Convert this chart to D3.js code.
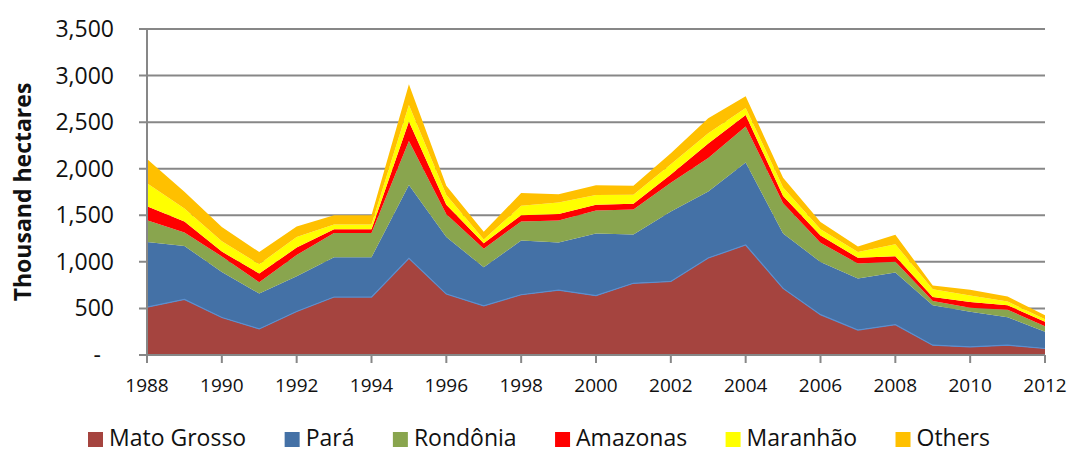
<!DOCTYPE html>
<html>
<head>
<meta charset="utf-8">
<script src="https://cdn.jsdelivr.net/npm/d3@7"></script>
<style>
  body { margin: 0; background: #fff; }
  svg text { font-family: "Open Sans", "DejaVu Sans", sans-serif; fill: #111; }
</style>
</head>
<body>
<svg width="1071" height="453"></svg>
<script>
// deforestation by state, thousand hectares
var years = [1988, 1989, 1990, 1991, 1992, 1993, 1994, 1995, 1996, 1997, 1998, 1999, 2000,
             2001, 2002, 2003, 2004, 2005, 2006, 2007, 2008, 2009, 2010, 2011, 2012];
var matoGrosso = [514, 596, 402, 280, 467, 622, 622, 1039, 654, 527, 647, 696, 637,
                  770, 789, 1041, 1181, 715, 433, 268, 326, 105, 87, 105, 70];
var para = [699, 575, 489, 380, 379, 428, 428, 785, 614, 414, 583, 511, 667,
            524, 751, 715, 887, 590, 566, 553, 561, 428, 377, 300, 180];
var rondonia = [234, 143, 167, 120, 227, 260, 260, 473, 243, 199, 204, 236, 247,
                267, 310, 360, 386, 324, 205, 161, 114, 48, 44, 80, 60];
var amazonas = [151, 118, 52, 95, 80, 40, 40, 211, 102, 59, 67, 72, 61,
                63, 89, 156, 123, 78, 79, 61, 60, 41, 60, 50, 48];
var maranhao = [245, 142, 110, 100, 114, 50, 50, 175, 106, 41, 101, 123, 107,
                96, 109, 110, 76, 92, 67, 63, 127, 83, 71, 40, 25];
var others = [262, 178, 153, 130, 112, 100, 100, 223, 97, 83, 137, 88, 104,
              96, 118, 160, 124, 103, 78, 59, 103, 42, 62, 53, 45];

var seriesNames = ["Mato Grosso", "Pará", "Rondônia", "Amazonas", "Maranhão", "Others"];
var seriesValues = [matoGrosso, para, rondonia, amazonas, maranhao, others];
var colors = ["#A5443F", "#4471A6", "#89A54E", "#FF0000", "#FFFF00", "#FFC000"];
var yTicks = [0, 500, 1000, 1500, 2000, 2500, 3000, 3500];
var xTicks = [1988, 1990, 1992, 1994, 1996, 1998, 2000, 2002, 2004, 2006, 2008, 2010, 2012];

var svg = d3.select("svg"),
  margin = { top: 29, right: 26, bottom: 98, left: 147 },
  width = 1071, height = 453,
  gridColor = "#878787";

var table = years.map(function(yr, i) {
  var row = { year: yr };
  seriesNames.forEach(function(n, j) { row[n] = seriesValues[j][i]; });
  return row;
});

var x = d3.scaleLinear()
  .domain([1988, 2012])
  .range([margin.left, width - margin.right]);

var y = d3.scaleLinear()
  .domain([0, 3500])
  .range([height - margin.bottom, margin.top]);

var stack = d3.stack().keys(seriesNames);
var layers = stack(table);

// gridlines (with small tick stub to the left of axis)
svg.append("g")
  .selectAll("line")
  .data(yTicks)
  .enter()
  .append("line")
  .attr("x1", margin.left - 8)
  .attr("x2", function(d) { return d === 0 ? margin.left : width - margin.right; })
  .attr("y1", function(d) { return y(d); })
  .attr("y2", function(d) { return y(d); })
  .attr("stroke", gridColor)
  .attr("stroke-width", 2);

var area = d3.area()
  .x(function(d) { return x(d.data.year); })
  .y0(function(d) { return y(d[0]); })
  .y1(function(d) { return y(d[1]); });

svg.append("g")
  .selectAll("path")
  .data(layers)
  .enter()
  .append("path")
  .attr("fill", function(d, i) { return colors[i]; })
  .attr("d", area);

// thin light line on top of Mato Grosso (Pará area edge)
svg.append("path")
  .datum(layers[0])
  .attr("fill", "none")
  .attr("stroke", "#5a8fd0")
  .attr("stroke-width", 1.2)
  .attr("d", d3.line()
    .x(function(d) { return x(d.data.year); })
    .y(function(d) { return y(d[1]); }));

// axes
svg.append("line")
  .attr("x1", margin.left).attr("x2", margin.left)
  .attr("y1", y(0)).attr("y2", y(3500))
  .attr("stroke", gridColor).attr("stroke-width", 2);

svg.append("line")
  .attr("x1", margin.left).attr("x2", width - margin.right)
  .attr("y1", y(0)).attr("y2", y(0))
  .attr("stroke", gridColor).attr("stroke-width", 2);

svg.append("g")
  .selectAll("line")
  .data(xTicks)
  .enter()
  .append("line")
  .attr("x1", function(d) { return x(d); })
  .attr("x2", function(d) { return x(d); })
  .attr("y1", y(0))
  .attr("y2", y(0) + 8)
  .attr("stroke", gridColor)
  .attr("stroke-width", 2);

var fmt = d3.format(",");

svg.append("g")
  .selectAll("text")
  .data(yTicks)
  .enter()
  .append("text")
  .attr("x", function(d) { return d === 0 ? 101 : 114; })
  .attr("y", function(d) { return y(d) + 8; })
  .attr("text-anchor", "end")
  .style("font-size", "23px")
  .text(function(d) { return d === 0 ? "-" : fmt(d); });

svg.append("g")
  .selectAll("text")
  .data(xTicks)
  .enter()
  .append("text")
  .attr("x", function(d) { return x(d); })
  .attr("y", 392)
  .attr("text-anchor", "middle")
  .style("font-size", "19px")
  .text(function(d) { return d; });

svg.append("text")
  .attr("transform", "translate(31," + 192 + ") rotate(-90)")
  .attr("text-anchor", "middle")
  .style("font-size", "23px")
  .style("font-weight", "bold")
  .text("Thousand hectares");

// legend: spread evenly between x=88 and x=990
var legend = svg.append("g").attr("class", "legend");
var items = seriesNames.map(function(n, i) {
  var item = legend.append("g");
  item.append("rect")
    .attr("x", 0).attr("y", 432)
    .attr("width", 15).attr("height", 15)
    .attr("fill", colors[i]);
  var t = item.append("text")
    .attr("x", 21).attr("y", 446)
    .style("font-size", "23px")
    .text(n);
  return { g: item, w: 21 + t.node().getComputedTextLength() };
});
var totalW = d3.sum(items, function(d) { return d.w; });
var gap = (990 - 88 - totalW) / (items.length - 1);
var lx = 88;
items.forEach(function(d) {
  d.g.attr("transform", "translate(" + lx + ",0)");
  lx += d.w + gap;
});
</script>
</body>
</html>
